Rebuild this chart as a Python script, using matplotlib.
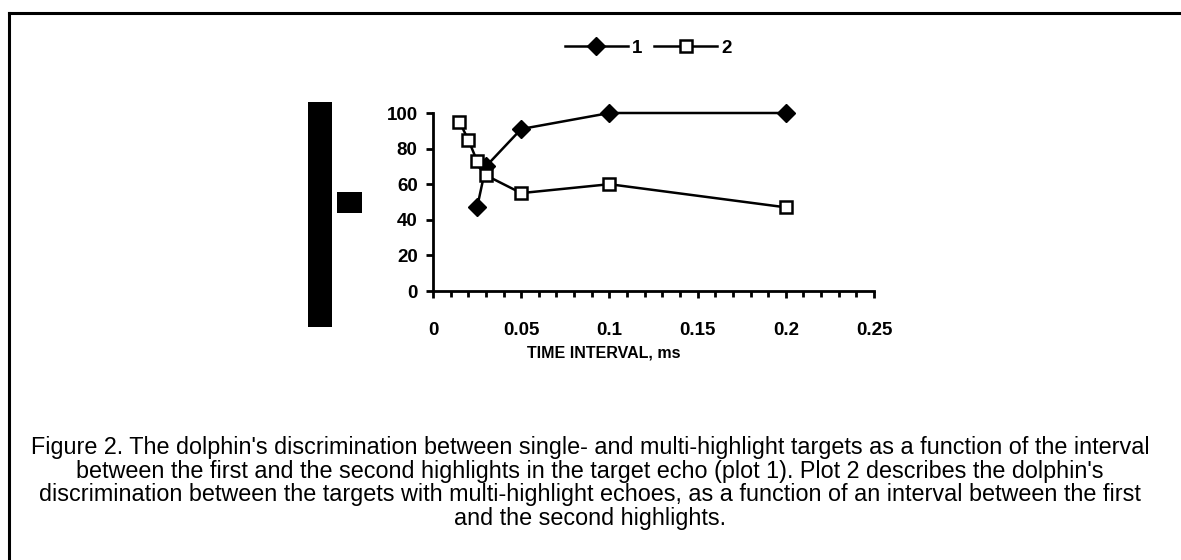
import matplotlib.pyplot as plt
from matplotlib.patches import Rectangle
from matplotlib.ticker import MultipleLocator

plt.rcParams['font.family'] = ['Liberation Sans', 'DejaVu Sans']

# plot 1: single vs multi-highlight
x1 = [0.025, 0.03, 0.05, 0.1, 0.2]
y1 = [47, 70, 91, 100, 100]
# plot 2: between multi-highlight targets
x2 = [0.015, 0.02, 0.025, 0.03, 0.05, 0.1, 0.2]
y2 = [95, 85, 73, 65, 55, 60, 47]

xticks = [0, 0.05, 0.1, 0.15, 0.2, 0.25]
xticklabels = ['0', '0.05', '0.1', '0.15', '0.2', '0.25']
yticks = [0, 20, 40, 60, 80, 100]

caption = ("Figure 2. The dolphin's discrimination between single- and multi-highlight targets as a function of the interval\n"
           "between the first and the second highlights in the target echo (plot 1). Plot 2 describes the dolphin's\n"
           "discrimination between the targets with multi-highlight echoes, as a function of an interval between the first\n"
           "and the second highlights.")

W, H = 1181, 560
fig = plt.figure(figsize=(W/100, H/100), dpi=100)

# frame of the figure box (only top and left edges fall inside the scan)
fig.add_artist(plt.Line2D([9/W, 9/W], [0, 1 - 13/H], color='black', lw=2.2))
fig.add_artist(plt.Line2D([9/W, 1], [1 - 13/H, 1 - 13/H], color='black', lw=2.2))

# blotted y-axis label leftovers
fig.add_artist(Rectangle((308/W, 1 - 327/H), 24/W, 225/H, color='black', lw=0))
fig.add_artist(Rectangle((337/W, 1 - 213/H), 25/W, 21/H, color='black', lw=0))

ax = fig.add_axes([433/W, 1 - 291/H, (874-433)/W, (291-113)/H])
ax.plot(x1, y1, color='black', lw=1.8, marker='D', ms=9, mfc='black', mec='black',
        label='1', clip_on=False)
ax.plot(x2, y2, color='black', lw=1.8, marker='s', ms=8, mfc='white', mec='black', mew=1.8,
        label='2', clip_on=False)

ax.set_xlim(0, 0.25)
ax.set_ylim(0, 100)
ax.set_xticks(xticks)
ax.set_xticklabels(xticklabels)
ax.set_yticks(yticks)
ax.xaxis.set_minor_locator(MultipleLocator(0.01))
for s in ['top', 'right']:
    ax.spines[s].set_visible(False)
for s in ['left', 'bottom']:
    ax.spines[s].set_linewidth(2)
ax.tick_params(axis='x', which='major', length=5, width=2, pad=17, labelsize=13.5)
ax.tick_params(axis='x', which='minor', length=4, width=2)
ax.tick_params(axis='y', length=5, width=2, pad=6, labelsize=13.5)
for lab in ax.get_xticklabels() + ax.get_yticklabels():
    lab.set_fontweight('bold')

fig.legend(loc='center', bbox_to_anchor=(648/W, 1 - 48/H), ncol=2, frameon=False,
           handlelength=3.4, columnspacing=0.6, handletextpad=0.2, numpoints=1,
           prop={'weight': 'bold', 'size': 13.5})

fig.text(604/W, 1 - 353/H, 'TIME INTERVAL, ms', ha='center', va='center', fontsize=11.5, fontweight='bold')
fig.text(590/W, 1 - 483/H, caption, ha='center', va='center', fontsize=16.8, linespacing=1.05)

fig.savefig('out.png', dpi=100)
